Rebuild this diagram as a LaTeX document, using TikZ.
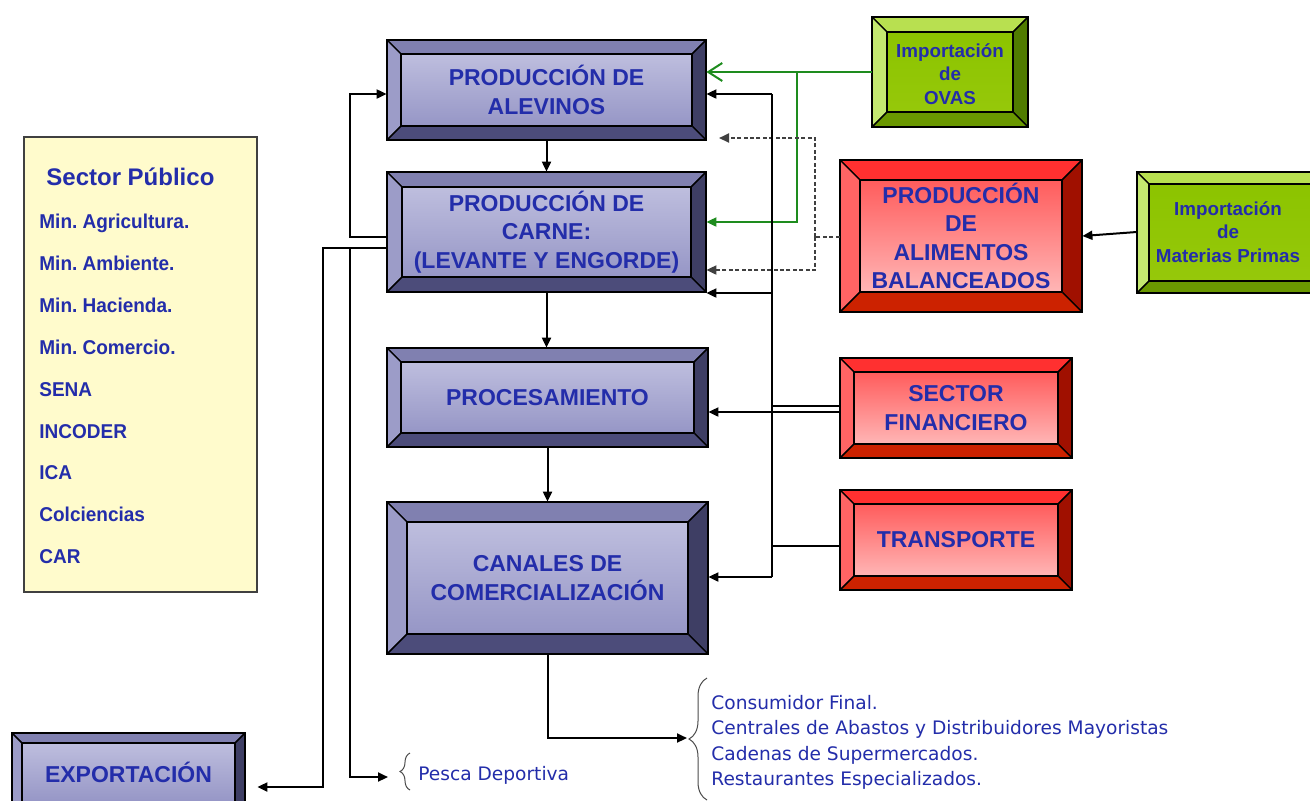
\documentclass[tikz,border=0pt]{standalone}
\usepackage{fontspec}
\setmainfont{Liberation Sans}
\newfontfamily\narrowfont{Liberation Sans}[FakeStretch=0.95]
\newfontfamily\verdfont{DejaVu Sans}
\usetikzlibrary{arrows.meta,fit,decorations.pathreplacing,calc}
\frenchspacing
\definecolor{txtblue}{RGB}{35,45,170}
\definecolor{bT}{RGB}{128,128,176}\definecolor{bL}{RGB}{156,156,200}\definecolor{bR}{RGB}{62,62,100}\definecolor{bB}{RGB}{76,76,122}
\definecolor{bF1}{RGB}{190,190,222}\definecolor{bF2}{RGB}{228,228,243}\definecolor{bF3}{RGB}{150,150,198}
\definecolor{rT}{RGB}{255,48,48}\definecolor{rL}{RGB}{255,100,100}\definecolor{rR}{RGB}{160,16,0}\definecolor{rB}{RGB}{204,34,0}
\definecolor{rF1}{RGB}{255,92,92}\definecolor{rF2}{RGB}{255,160,160}\definecolor{rF3}{RGB}{255,182,182}
\definecolor{gT}{RGB}{184,224,80}\definecolor{gL}{RGB}{196,232,112}\definecolor{gR}{RGB}{80,124,0}\definecolor{gB}{RGB}{106,152,0}
\definecolor{gF1}{RGB}{140,196,0}\definecolor{gF2}{RGB}{156,208,0}\definecolor{gF3}{RGB}{150,200,10}
\definecolor{pubfill}{RGB}{255,251,204}
\definecolor{arrgreen}{RGB}{30,140,30}
\newcommand\bevelbox[7]{%
 \filldraw[facet,fill=#7T] (#2,#3) -- (#4,#3) -- ({#4-#6},{#3+#6}) -- ({#2+#6},{#3+#6}) -- cycle;
 \filldraw[facet,fill=#7L] (#2,#3) -- ({#2+#6},{#3+#6}) -- ({#2+#6},{#5-#6}) -- (#2,#5) -- cycle;
 \filldraw[facet,fill=#7R] (#4,#3) -- (#4,#5) -- ({#4-#6},{#5-#6}) -- ({#4-#6},{#3+#6}) -- cycle;
 \filldraw[facet,fill=#7B] (#2,#5) -- ({#2+#6},{#5-#6}) -- ({#4-#6},{#5-#6}) -- (#4,#5) -- cycle;
 \shade[top color=#7F1,middle color=#7F2,bottom color=#7F3] ({#2+#6},{#3+#6}) rectangle ({#4-#6},{#5-#6});
 \draw[facet] ({#2+#6},{#3+#6}) rectangle ({#4-#6},{#5-#6});
 \draw[outerln] (#2,#3) rectangle (#4,#5);
 \node[fit={(#2,#3) (#4,#5)},inner sep=0pt] (#1) {};
}
\begin{document}
\begin{tikzpicture}[x=0.5pt,y=-0.5pt,
 facet/.style={draw=black,line width=0.7pt,line join=round},
 outerln/.style={draw=black,line width=1pt},
 btext/.style={font=\bfseries\fontsize{11.5}{14.2}\selectfont,text=txtblue,align=center,inner sep=0pt},
 stext/.style={font=\bfseries\fontsize{9.4}{11.7}\selectfont,text=txtblue,align=center,inner sep=0pt},
 ptext/.style={font=\narrowfont\bfseries\fontsize{10}{12}\selectfont,text=txtblue,anchor=base west,inner sep=0pt},
 vtext/.style={font=\verdfont\fontsize{9.3}{11}\selectfont,text=txtblue,anchor=base west,inner sep=0pt},
 ln/.style={line width=1pt,draw=black},
 arr/.style={ln,-{Triangle[length=5pt,width=4.5pt]}},
 dsh/.style={line width=1pt,draw=black!75,dash pattern=on 2pt off 1.2pt},
 darr/.style={dsh,-{Triangle[length=5pt,width=4.5pt]}},
 garr/.style={line width=1pt,draw=arrgreen,-{Triangle[length=5pt,width=4.5pt]}},
 gbarb/.style={line width=1pt,draw=arrgreen,-{Straight Barb[length=7pt,width=9pt,line width=1pt]}},
 brc/.style={draw=black!70,line width=0.5pt,decorate}]
\useasboundingbox (0,0) rectangle (1310,800);
\clip (0,0) rectangle (1310,800);
\fill[white] (0,0) rectangle (1310,800);

% Sector publico
\node[draw=black!75,line width=0.8pt,fill=pubfill,fit={(24,137) (257,592)},inner sep=0pt] (pub) {};
\node[font=\bfseries\fontsize{12}{14}\selectfont,text=txtblue,anchor=base west,inner sep=0pt] (pubt) at (46,185) {Sector Público};
\node[ptext] (p1) at (39,228) {Min. Agricultura.};
\node[ptext] (p2) at (39,270) {Min. Ambiente.};
\node[ptext] (p3) at (39,312) {Min. Hacienda.};
\node[ptext] (p4) at (39,354) {Min. Comercio.};
\node[ptext] (p5) at (39,396) {SENA};
\node[ptext] (p6) at (39,438) {INCODER};
\node[ptext] (p7) at (39,479) {ICA};
\node[ptext] (p8) at (39,521) {Colciencias};
\node[ptext] (p9) at (39,563) {CAR};

% main chain
\bevelbox{alev}{387}{40}{706}{140}{14}{b}
\node[btext] at (alev) {PRODUCCIÓN DE\\ALEVINOS};
\bevelbox{carne}{387}{172}{706}{292}{15}{b}
\node[btext] at (carne) {PRODUCCIÓN DE\\CARNE:\\(LEVANTE Y ENGORDE)};
\bevelbox{proc}{387}{348}{708}{447}{14}{b}
\node[btext] at (proc) {PROCESAMIENTO};
\bevelbox{canal}{387}{502}{708}{654}{20}{b}
\node[btext] at (canal) {CANALES DE\\COMERCIALIZACIÓN};
\bevelbox{exp}{12}{733}{245}{812}{10}{b}
\node[btext] at (exp) {EXPORTACIÓN};

% right side
\bevelbox{ovas}{872}{17}{1028}{127}{15}{g}
\node[stext] at ([yshift=-1pt]ovas) {Importación\\de\\OVAS};
\bevelbox{alim}{840}{160}{1082}{312}{20}{r}
\node[btext] at (alim) {PRODUCCIÓN\\DE\\ALIMENTOS\\BALANCEADOS};
\bevelbox{mp}{1137}{172}{1325}{293}{12}{g}
\node[stext] at (1228,232) {Importación\\de\\Materias Primas};
\bevelbox{fin}{840}{358}{1072}{458}{14}{r}
\node[btext] at (fin) {SECTOR\\FINANCIERO};
\bevelbox{tra}{840}{490}{1072}{590}{14}{r}
\node[btext] at (tra) {TRANSPORTE};

% chain arrows
\draw[arr] (alev.south) -- (alev.south |- carne.north);
\draw[arr] (carne.south) -- (carne.south |- proc.north);
\draw[arr] (proc.south) -- (proc.south |- canal.north);

% left loops
\coordinate (cL) at (350,94);
\coordinate (cE) at (323,787);
\coordinate (cP0) at (350,248);
\coordinate (cP1) at (350,777);
\coordinate (pescaTip) at (388,777);
\draw[arr] (carne.west |- 0,237) -| (cL) -- (alev.west |- cL);
\draw[arr,shorten >=6pt] (carne.west |- 0,248) -| (cE) -- (exp.east |- cE);
\draw[arr] (cP0) -- (cP1) -- (pescaTip);
\draw[brc,decoration={brace,amplitude=5pt}] (410,790) -- (410,753);
\node[vtext] (pesca) at (418,780) {Pesca Deportiva};

% canales to consumers
\coordinate (consTip) at (687,738);
\draw[arr] (canal.south) |- (consTip);
\draw[brc,decoration={brace,amplitude=9pt}] (707,800) -- (707,678);
\node[vtext] (c1) at (711,709) {Consumidor Final.};
\node[vtext] (c2) at (711,734) {Centrales de Abastos y Distribuidores Mayoristas};
\node[vtext] (c3) at (711,760) {Cadenas de Supermercados.};
\node[vtext] (c4) at (711,785) {Restaurantes Especializados.};

% green from ovas
\coordinate (g1) at (797,72);
\coordinate (g2) at (797,222);
\draw[gbarb] (ovas.west |- g1) -- (alev.east |- g1);
\draw[garr] (g1) -- (g2) -- (carne.east |- g2);

% dashed from alimentos
\coordinate (d0) at (815,237);
\coordinate (d1) at (815,138);
\coordinate (d2) at (815,270);
\coordinate (d1tip) at (719,138);
\draw[dsh] (alim.west |- d0) -- (d0);
\draw[darr] (d0) -- (d1) -- (d1tip);
\draw[darr] (d0) -- (d2) -- (carne.east |- d2);

% black trunk
\coordinate (t1) at (772,94);
\coordinate (t2) at (772,293);
\coordinate (t3) at (772,412);
\coordinate (t4) at (772,577);
\coordinate (t5) at (772,546);
\draw[ln,line width=1.3pt] (t1) -- (t4);
\draw[arr] (t1) -- (alev.east |- t1);
\draw[arr] (t2) -- (carne.east |- t2);
\draw[arr] (fin.west |- t3) -- (proc.east |- t3);
\draw[ln] (fin.west |- 0,406) -- (t3 |- 0,406);
\draw[arr] (t4) -- (canal.east |- t4);
\draw[ln,line width=0.7pt] (tra.west |- t5) -- (t5);

% materias primas to alimentos
\draw[arr] (mp.west |- 0,232) -- (alim.east |- 0,236);
\end{tikzpicture}
\end{document}
